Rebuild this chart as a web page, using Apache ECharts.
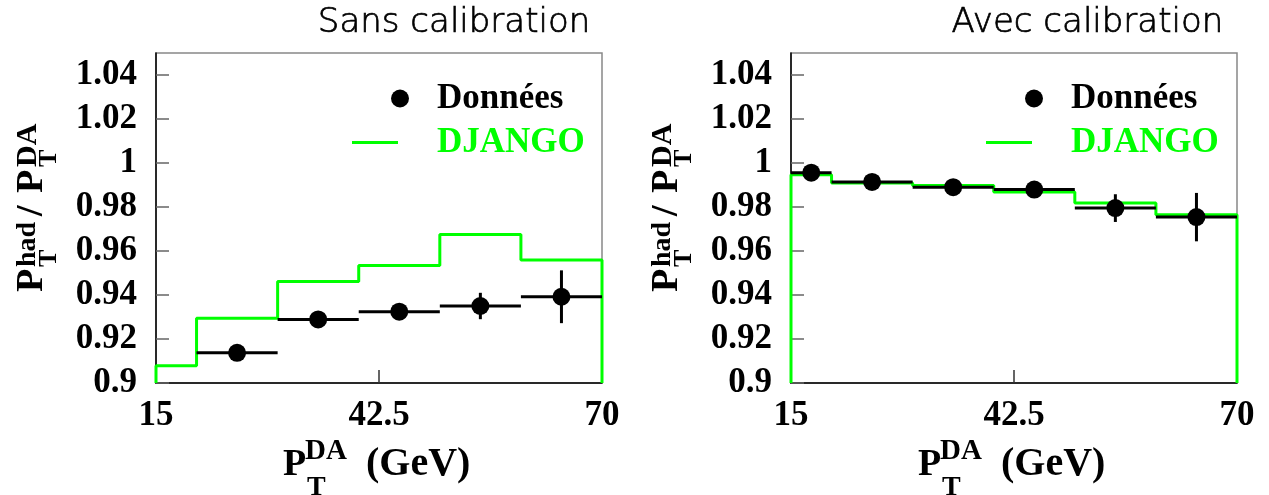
<!DOCTYPE html>
<html>
<head>
<meta charset="utf-8">
<script src="https://cdn.jsdelivr.net/npm/echarts@6/dist/echarts.min.js"></script>
<style>html,body{margin:0;padding:0;background:#fff;}#c{width:1269px;height:495px;}</style>
</head>
<body>
<div id="c"></div>
<script>
// ---- data ----
const binEdges = [15, 20, 30, 40, 50, 60, 70];
const djangoSans = [0.9078, 0.9294, 0.9461, 0.9534, 0.9675, 0.9559];
const djangoAvec = [0.9947, 0.9909, 0.9898, 0.9868, 0.9818, 0.9765];
// data points: first bin index used, values, errors
const dataSansFirstBin = 1;
const dataSansValues = [0.9137, 0.9289, 0.9324, 0.9350, 0.9392];
const dataSansErrors = [0.002, 0.002, 0.002, 0.006, 0.012];
const dataAvecFirstBin = 0;
const dataAvecValues = [0.9956, 0.9914, 0.9890, 0.9879, 0.9795, 0.9754];
const dataAvecErrors = [0.002, 0.002, 0.002, 0.002, 0.0063, 0.011];
const yTicks = [0.9, 0.92, 0.94, 0.96, 0.98, 1, 1.02, 1.04];
const xTickLabels = [15, 42.5, 70];
const xTicksInner = [42.5];
const panelTitles = ['Sans calibration', 'Avec calibration'];

// ---- helpers ----
function stepLine(edges, vals, base) {
  const pts = [[edges[0], base]];
  for (let i = 0; i < vals.length; i++) {
    pts.push([edges[i], vals[i]]);
    pts.push([edges[i + 1], vals[i]]);
  }
  pts.push([edges[edges.length - 1], base]);
  return pts;
}
function pointData(edges, first, vals, errs) {
  return vals.map((v, i) => [edges[first + i], edges[first + i + 1], v, errs[i]]);
}
function renderData(params, api) {
  const lo = api.value(0), hi = api.value(1), v = api.value(2), e = api.value(3);
  const mid = (lo + hi) / 2;
  const a = api.coord([lo, v]), b = api.coord([hi, v]);
  const c = api.coord([mid, v]);
  const t = api.coord([mid, v + e]), bt = api.coord([mid, v - e]);
  return {
    type: 'group', children: [
      { type: 'line', shape: { x1: a[0], y1: a[1], x2: b[0], y2: b[1] }, style: { stroke: '#000', lineWidth: 3 } },
      { type: 'line', shape: { x1: t[0], y1: t[1], x2: bt[0], y2: bt[1] }, style: { stroke: '#000', lineWidth: 3 } },
      { type: 'circle', shape: { cx: c[0], cy: c[1], r: 9 }, style: { fill: '#000' } }
    ]
  };
}

const serif = '"Liberation Serif", "Times New Roman", serif';
const GREEN = '#00ff00';
const gridLefts = [156, 791];
const gridW = 446, gridTop = 53, gridH = 330;

const grids = gridLefts.map(l => ({
  left: l, top: gridTop, width: gridW, height: gridH,
  show: true, borderColor: '#888', borderWidth: 1.5, backgroundColor: 'transparent'
}));
const xAxes = [0, 1].map(i => ({
  type: 'value', gridIndex: i, min: 15, max: 70,
  axisLine: { show: true, lineStyle: { color: '#000', width: 1.5 } },
  axisTick: { show: true, inside: true, length: 13, customValues: xTicksInner, lineStyle: { color: '#333', width: 1.5 } },
  axisLabel: { customValues: xTickLabels, margin: 15, fontFamily: serif, fontWeight: 'bold', fontSize: 35, color: '#000' },
  splitLine: { show: false }
}));
const yAxes = [0, 1].map(i => ({
  type: 'value', gridIndex: i, min: 0.9, max: 1.05,
  axisLine: { show: true, lineStyle: { color: '#000', width: 1.5 } },
  axisTick: { show: true, inside: true, length: 13, customValues: yTicks, lineStyle: { color: '#666', width: 1.5 } },
  axisLabel: { customValues: yTicks, margin: 19, fontFamily: serif, fontWeight: 'bold', fontSize: 35, color: '#000',
    formatter: v => String(+v.toFixed(2)) },
  splitLine: { show: false }
}));

const series = [
  { name: 'DJANGO', type: 'line', xAxisIndex: 0, yAxisIndex: 0, data: stepLine(binEdges, djangoSans, 0.9),
    symbol: 'none', lineStyle: { color: GREEN, width: 3 }, itemStyle: { color: GREEN }, z: 2, animation: false },
  { name: 'Données', type: 'custom', xAxisIndex: 0, yAxisIndex: 0, renderItem: renderData,
    data: pointData(binEdges, dataSansFirstBin, dataSansValues, dataSansErrors),
    encode: { x: [0, 1], y: 2 }, itemStyle: { color: '#000' }, z: 3, animation: false },
  { name: 'DJANGO', type: 'line', xAxisIndex: 1, yAxisIndex: 1, data: stepLine(binEdges, djangoAvec, 0.9),
    symbol: 'none', lineStyle: { color: GREEN, width: 3 }, itemStyle: { color: GREEN }, z: 2, animation: false },
  { name: 'Données', type: 'custom', xAxisIndex: 1, yAxisIndex: 1, renderItem: renderData,
    data: pointData(binEdges, dataAvecFirstBin, dataAvecValues, dataAvecErrors),
    encode: { x: [0, 1], y: 2 }, itemStyle: { color: '#000' }, z: 3, animation: false }
];

const legendFont = { fontFamily: serif, fontWeight: 'bold', fontSize: 35, lineHeight: 35 };
const legends = [];
[0, 634].forEach(dx => {
  legends.push({
    left: 391 + dx, top: 81, padding: 0, orient: 'vertical', selectedMode: false,
    itemWidth: 18, itemHeight: 18,
    data: [{ name: 'Données', icon: 'circle' }],
    textStyle: Object.assign({ color: '#000', padding: [0, 0, 0, 23] }, legendFont)
  });
  legends.push({
    left: 352 + dx, top: 125, padding: 0, orient: 'vertical', selectedMode: false,
    itemWidth: 46, itemHeight: 3,
    data: [{ name: 'DJANGO', icon: 'rect', itemStyle: { color: GREEN } }],
    textStyle: Object.assign({ color: GREEN, padding: [0, 0, 0, 34] }, legendFont)
  });
});

const titles = [
  { text: panelTitles[0], right: 673, top: 1 },
  { text: panelTitles[1], right: 40, top: 1 }
].map(t => Object.assign(t, { textStyle: { fontFamily: '"DejaVu Sans", sans-serif', fontWeight: 200, fontSize: 34,
  color: '#000', textBorderColor: '#000', textBorderWidth: 0.7 } }));

function txt(text, x, y, size) {
  return { type: 'text', x: x, y: y, style: { text: text, fill: '#000', font: 'bold ' + size + 'px ' + serif, align: 'left', verticalAlign: 'middle' } };
}
const graphics = [];
[0, 635].forEach(dx => {
  // x-axis title: P_T^DA (GeV)
  graphics.push({ type: 'group', x: dx, y: 0, children: [
    txt('P', 283, 465, 38), txt('DA', 305, 452, 29), txt('T', 307, 488, 28), txt('(GeV)', 366, 465, 40)
  ]});
  // y-axis title rotated: P_T^had / P_T^DA
  graphics.push({ type: 'group', x: 45 + dx, y: 292, rotation: Math.PI / 2, children: [
    txt('P', 0, -12.5, 38), txt('had', 25, -17, 28), txt('T', 25, 4, 26),
    txt('/', 76, -12.5, 38), txt('P', 99, -12.5, 38), txt('DA', 125, -17, 30), txt('T', 125, 4, 26)
  ]});
});

const chart = echarts.init(document.getElementById('c'), null, { renderer: 'canvas' });
chart.setOption({
  animation: false,
  backgroundColor: '#fff',
  title: titles,
  grid: grids,
  xAxis: xAxes,
  yAxis: yAxes,
  legend: legends,
  series: series,
  graphic: graphics
});
</script>
</body>
</html>
